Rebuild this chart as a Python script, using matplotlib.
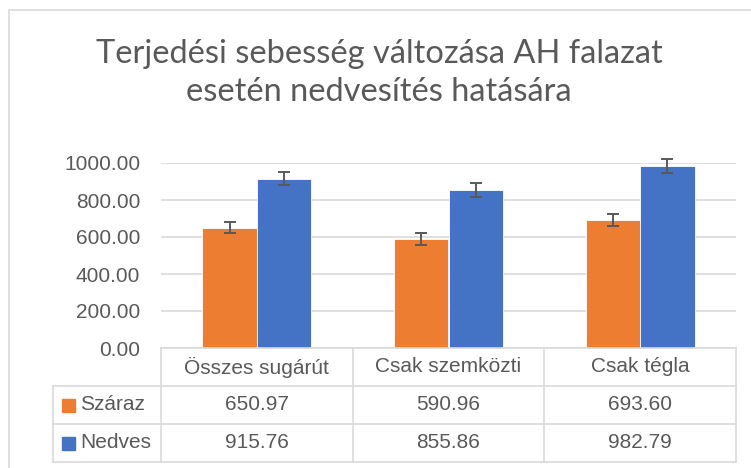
import matplotlib
matplotlib.use("Agg")
import matplotlib.pyplot as plt
from matplotlib.patches import Rectangle
from matplotlib.lines import Line2D
import numpy as np

categories = ["Összes sugárút", "Csak szemközti", "Csak tégla"]
series_names = ["Száraz", "Nedves"]
szaraz = [650.97, 590.96, 693.60]
nedves = [915.76, 855.86, 982.79]
szaraz_err = [32, 32, 32]
nedves_err = [37, 37, 37]
yticks = [0, 200, 400, 600, 800, 1000]
title = "Terjedési sebesség változása AH falazat\nesetén nedvesítés hatására"

colors = ["#ED7D31", "#4472C4"]
txt = "#595959"
grid = "#d9d9d9"
FONT = "Liberation Sans"

W, H = 751, 468
fig = plt.figure(figsize=(W / 100, H / 100), dpi=100)

def fx(px):
    return px / W

def fy(py):
    return 1 - py / H

# chart border
fig.add_artist(Rectangle((fx(9), fy(470)), fx(760) - fx(9), fy(10) - fy(470),
                         transform=fig.transFigure, fill=False, ec=grid, lw=1.2))

ax = fig.add_axes([fx(161), fy(348), fx(736) - fx(161), fy(163) - fy(348)])
x = np.arange(len(categories))
bw = 0.284
ax.bar(x - bw / 2, szaraz, bw, color=colors[0], zorder=3, ec="white", lw=0.6)
ax.bar(x + bw / 2, nedves, bw, color=colors[1], zorder=3, ec="white", lw=0.6)
for xs, vals, errs in [(x - bw / 2, szaraz, szaraz_err), (x + bw / 2, nedves, nedves_err)]:
    eb = ax.errorbar(xs, vals, yerr=errs, fmt="none", ecolor=txt,
                     elinewidth=1.4, capsize=4.6, capthick=1.4, zorder=4)
    for art in eb.lines[1] + eb.lines[2]:
        art.set_clip_on(False)

ax.set_xlim(-0.5, len(categories) - 0.5)
ax.set_ylim(0, 1000)
ax.set_yticks(yticks)
ax.set_yticklabels([f"{v:.2f}" for v in yticks], fontsize=15, color=txt, family=FONT)
ax.tick_params(axis="y", length=0, pad=15)
ax.set_xticks([])
ax.grid(axis="y", color=grid, lw=1.2, zorder=0)
for s in ["top", "right", "left"]:
    ax.spines[s].set_visible(False)
ax.spines["bottom"].set_color(grid)
ax.spines["bottom"].set_linewidth(1.2)
ax.spines["bottom"].set_zorder(5)

# data table (axes-fraction y, data x)
tr = ax.get_xaxis_transform()
row_h = 38 / 185
y_hdr = -row_h
y_r1 = -2 * row_h
y_r2 = -3 * row_h
x_left = (53 - 161) / ((736 - 161) / 3) - 0.5
lkw = dict(color=grid, lw=1.2, transform=tr, clip_on=False)
for xb in np.arange(len(categories) + 1) - 0.5:
    ax.add_line(Line2D([xb, xb], [0, y_r2], **lkw))
ax.add_line(Line2D([x_left, x_left], [y_hdr, y_r2], **lkw))
for yy in [y_hdr, y_r1, y_r2]:
    ax.add_line(Line2D([x_left, len(categories) - 0.5], [yy, yy], **lkw))

tkw = dict(transform=tr, fontsize=15, color=txt, family=FONT, va="center", ha="center", clip_on=False)
for i, c in enumerate(categories):
    ax.text(i, y_hdr / 2, c, **tkw)
for r, (vals, name, col) in enumerate(zip([szaraz, nedves], series_names, colors)):
    yc = -(1.5 + r) * row_h
    for i, v in enumerate(vals):
        ax.text(i, yc, f"{v:.2f}", **tkw)
    # legend key + name
    ax.add_patch(Rectangle((x_left + 9 / 191.67, yc - 6.5 / 185), 13 / 191.67, 13 / 185,
                           transform=tr, color=col, clip_on=False))
    ax.text(x_left + 27 / 191.67, yc, name, transform=tr, fontsize=15, color=txt,
            family=FONT, va="center", ha="left", clip_on=False)

for line, base in zip(title.split("\n"), [63, 101]):
    fig.text(fx(379), fy(base), line, ha="center", va="baseline", fontsize=23.5,
             color=txt, family="Lato")

fig.savefig("out.png", dpi=100)
